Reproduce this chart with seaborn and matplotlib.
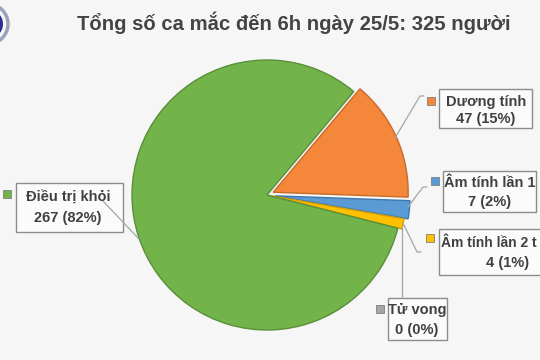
import matplotlib
matplotlib.use("Agg")
import matplotlib.pyplot as plt
import seaborn as sns
from matplotlib.patches import Rectangle, Circle

sns.set_theme(style="white")
plt.rcParams['font.family'] = ['Liberation Sans', 'DejaVu Sans']

# ---- data ----
title = "Tổng số ca mắc đến 6h ngày 25/5: 325 người"
categories = ["Dương tính", "Âm tính lần 1", "Âm tính lần 2 t", "Tử vong", "Điều trị khỏi"]
values = [47, 7, 4, 0, 267]
percents = ["15%", "2%", "1%", "0%", "82%"]
colors = ["#f5873a", "#5b9bd5", "#ffc000", "#a5a5a5", "#72b34a"]
edges = ["#c86a2a", "#3f77aa", "#d9a000", "#808080", "#5a8f3a"]
explode = [0.05, 0.06, 0.03, 0.0, 0.0]

# ---- layout helpers (pixel -> data) ----
CX, CY, R = 267, 195, 135
W, H = 540, 360

def P(x, y):
    return ((x - CX) / R, (CY - y) / R)

fig = plt.figure(figsize=(5.4, 3.6), dpi=100)
fig.patch.set_facecolor("#f6f6f6")
ax = fig.add_axes([0, 0, 1, 1])
ax.set_facecolor("#f6f6f6")

wedges, _ = ax.pie(values, colors=colors, explode=explode, startangle=50,
                   counterclock=False, radius=1.0,
                   wedgeprops=dict(linewidth=1.0))
for w, ec, v in zip(wedges, edges, values):
    w.set_edgecolor(ec)
    if v == 0:
        w.set_linewidth(0)

ax.set_xlim(P(0, 0)[0], P(W, 0)[0])
ax.set_ylim(P(0, H)[1], P(0, 0)[1])
ax.set_aspect('equal')
ax.axis('off')

# title
ax.text(*P(294, 23), title, ha='center', va='center', fontsize=14.6,
        fontweight='bold', color='#444444')

# partial logo at top-left
ax.add_patch(Circle(P(-12, 24), 20 / R, facecolor='none', edgecolor='#9aa3b8', lw=2.5))
ax.add_patch(Circle(P(-12, 24), 15 / R, facecolor='#2a2f8f', edgecolor='none'))

# label boxes: (box x0, y0, x1, y1), text x + alignment, line ys, marker pos, leader pts, font size
labels_layout = [
    dict(box=(439, 89, 532, 128), tx=(486, 486), ha='center', ty=(102, 119), m=(431, 101),
         lead=[(395, 138), (420, 96), (424, 96)], fs=10.5),
    dict(box=(443, 171, 536, 212), tx=(490, 490), ha='center', ty=(183, 202), m=(435, 181),
         lead=[(408, 207), (423, 187), (427, 187)], fs=10.5),
    dict(box=(439, 229, 560, 275), tx=(441, 508), ha='left', ty=(243, 263), m=(430, 238),
         lead=[(403, 223), (417, 252), (421, 252)], fs=10.0),
    dict(box=(388, 298, 447, 340), tx=(417, 417), ha='center', ty=(310, 330), m=(380, 309),
         lead=[(402, 226), (402, 298)], fs=10.5),
    dict(box=(16, 183, 123, 232), tx=(68, 68), ha='center', ty=(198, 218), m=(7, 194),
         lead=[(103, 201), (139, 239)], fs=10.5),
]

for cat, val, pct, col, lay in zip(categories, values, percents, colors, labels_layout):
    x0, y0, x1, y1 = lay['box']
    bx, by = P(x0, y1)
    ax.add_patch(Rectangle((bx, by), (x1 - x0) / R, (y1 - y0) / R,
                           facecolor='#fbfbfb', edgecolor='#8c8c8c', lw=1.0, zorder=3))
    xs = [P(*p)[0] for p in lay['lead']]
    ys = [P(*p)[1] for p in lay['lead']]
    ax.plot(xs, ys, color='#a6a6a6', lw=0.9, zorder=3.5)
    ax.text(*P(lay['tx'][0], lay['ty'][0]), cat, ha=lay['ha'], va='center',
            fontsize=lay['fs'], fontweight='bold', color='#404040', zorder=4)
    ax.text(*P(lay['tx'][1], lay['ty'][1]), f"{val} ({pct})", ha='center', va='center',
            fontsize=10.5, fontweight='bold', color='#404040', zorder=4)
    mx, my = P(lay['m'][0] - 4, lay['m'][1] + 4)
    ax.add_patch(Rectangle((mx, my), 8 / R, 8 / R, facecolor=col,
                           edgecolor='#7f7f7f', lw=0.6, zorder=4))

fig.savefig("out.png", dpi=100, facecolor=fig.get_facecolor())
